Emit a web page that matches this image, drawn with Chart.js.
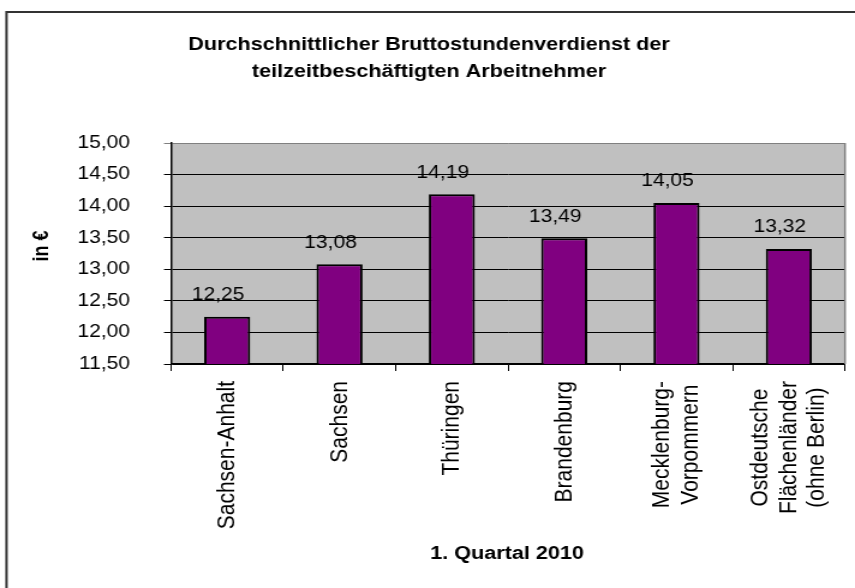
<!DOCTYPE html>
<html><head><meta charset="utf-8">
<script src="https://cdn.jsdelivr.net/npm/chart.js@4/dist/chart.umd.min.js"></script>
<style>html,body{margin:0;padding:0;background:#fff;overflow:hidden}
#c{display:block;width:855px !important;height:588px !important}</style>
</head><body>
<canvas id="c" width="712" height="588" style="width:855px;height:588px"></canvas>
<script>
const categories = [["Sachsen-Anhalt"],["Sachsen"],["Thüringen"],["Brandenburg"],["Mecklenburg-","Vorpommern"],["Ostdeutsche","Flächenländer","(ohne Berlin)"]];
const values = [12.25, 13.08, 14.19, 13.49, 14.05, 13.32];
const valueLabels = ["12,25","13,08","14,19","13,49","14,05","13,32"];
const yTickValues = [11.5,12,12.5,13,13.5,14,14.5,15];
const yTickLabels = ["11,50","12,00","12,50","13,00","13,50","14,00","14,50","15,00"];
const titleLines = ["Durchschnittlicher Bruttostundenverdienst der","teilzeitbeschäftigten Arbeitnehmer"];
const xTitle = "1. Quartal 2010";
const yTitle = "in €";

const FONT = '"Liberation Sans", Arial, sans-serif';
const SX = 712/855; // canvas is stretched horizontally by CSS

const deco = {
  id: 'deco',
  beforeDraw(chart){
    const {ctx, chartArea:a} = chart;
    ctx.save();
    ctx.fillStyle = '#fff'; ctx.fillRect(0,0,chart.width,chart.height);
    ctx.fillStyle = '#C0C0C0'; ctx.fillRect(a.left, a.top, a.right-a.left, a.bottom-a.top);
    ctx.strokeStyle = '#333'; ctx.lineWidth = 2;
    ctx.beginPath(); ctx.moveTo(6.5*SX, 620); ctx.lineTo(6.5*SX, 12); ctx.lineTo(760, 12); ctx.stroke();
    ctx.restore();
  },
  afterDraw(chart){
    const {ctx, chartArea:a} = chart;
    ctx.save();
    ctx.strokeStyle = '#808080'; ctx.lineWidth = 1.5;
    ctx.beginPath(); ctx.moveTo(a.right, a.top); ctx.lineTo(a.right, a.bottom); ctx.stroke();
    ctx.fillStyle = '#000';
    const meta = chart.getDatasetMeta(0);
    ctx.font = '17.5px ' + FONT; ctx.textAlign = 'center'; ctx.textBaseline = 'alphabetic';
    meta.data.forEach((el, i) => { ctx.fillText(valueLabels[i], el.x - 7.5, el.y - 16.6); });
    const xs = chart.scales.x;
    ctx.font = '21px ' + FONT;
    categories.forEach((lines, i) => {
      const px = xs.getPixelForValue(i);
      const maxW = Math.max(...lines.map(l => ctx.measureText(l).width));
      const cy = 381 + maxW/2;
      lines.forEach((l, j) => {
        const cx = px + (j - (lines.length-1)/2) * 23.6;
        ctx.save(); ctx.translate(cx, cy); ctx.rotate(-Math.PI/2);
        ctx.textAlign = 'center'; ctx.textBaseline = 'middle';
        ctx.fillText(l, 0, 0); ctx.restore();
      });
    });
    ctx.font = 'bold 18px ' + FONT; ctx.textAlign = 'center'; ctx.textBaseline = 'alphabetic';
    ctx.fillText(titleLines[0], 429*SX, 49.5);
    ctx.fillText(titleLines[1], 429*SX, 77);
    ctx.fillText(xTitle, 507*SX, 559);
    ctx.save(); ctx.translate(48.3*SX, 246); ctx.rotate(-Math.PI/2);
    ctx.fillText(yTitle, 0, 0); ctx.restore();
    ctx.restore();
  }
};

new Chart(document.getElementById('c'), {
  type: 'bar',
  data: {
    labels: categories,
    datasets: [{
      data: values,
      backgroundColor: '#800080',
      borderColor: '#000',
      borderWidth: 2,
      borderSkipped: false,
      barPercentage: 0.41,
      categoryPercentage: 1.0
    }]
  },
  options: {
    responsive: false,
    animation: false,
    devicePixelRatio: 1,
    events: [],
    layout: { padding: { left: 0, right: 712 - 845*SX, top: 143, bottom: 0 } },
    plugins: { legend: { display: false }, tooltip: { enabled: false }, title: { display: false } },
    scales: {
      x: {
        offset: true,
        grid: { offset: true, drawOnChartArea: false, drawTicks: true, tickLength: 7, color: '#000', lineWidth: 1 },
        border: { color: '#000', width: 1.5 },
        ticks: { display: false },
        afterFit(s){ s.height = 588 - 364; }
      },
      y: {
        min: 11.5, max: 15,
        afterBuildTicks(s){ s.ticks = yTickValues.map(v => ({value: v})); },
        grid: { color: ctx => (ctx.tick && ctx.tick.value === 15) ? '#808080' : '#000', lineWidth: 1, tickLength: 7*SX, drawTicks: true },
        border: { color: '#000', width: 1.5 },
        ticks: {
          font: { family: FONT, size: 17.5 }, color: '#000', padding: 142.4 - 7*SX - 130*SX,
          callback: (v) => { const i = yTickValues.findIndex(t => Math.abs(t - v) < 1e-6); return i >= 0 ? yTickLabels[i] : ''; }
        },
        afterFit(s){ s.width = 171*SX; }
      }
    }
  },
  plugins: [deco]
});
</script>
</body></html>
